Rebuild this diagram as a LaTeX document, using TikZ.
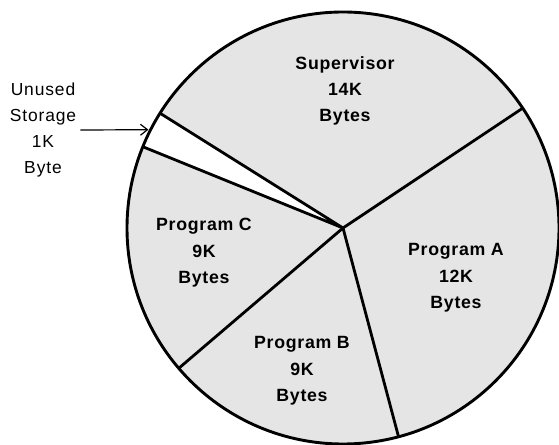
\documentclass[tikz,border=0pt]{standalone}
\usepackage{fontspec}
\setmainfont{Liberation Sans}
\newfontfamily\lblfont[LetterSpace=5]{Liberation Sans}
\newfontfamily\piefont[LetterSpace=4]{Liberation Sans}
\usetikzlibrary{arrows.meta,calc}
\tikzset{
  piefill/.style={fill=black!10},
  rim/.style={draw=black, line width=2.9bp},
  spoke/.style={draw=black, line width=2.8bp, line join=round},
  pielabel/.style={align=center, inner sep=2bp, font=\piefont\bfseries\fontsize{17.8}{26.5}\selectfont},
  sidelabel/.style={align=center, inner sep=4bp, font=\lblfont\fontsize{17.5}{26.3}\selectfont},
  pointer/.style={draw=black, line width=1.2bp, -{Straight Barb[length=7bp,width=11bp,line width=1.2bp]}}
}
\begin{document}
\begin{tikzpicture}[x=1bp,y=-1bp]
\useasboundingbox (0,0) rectangle (559,445);
\fill[white] (0,0) rectangle (559,445);
\coordinate (c) at (343,228);
\coordinate (pa1) at ($(c)+(33.7:216bp)$);
\coordinate (pu1) at ($(c)+(147.9:216bp)$);
\coordinate (pu2) at ($(c)+(157.9:216bp)$);
\coordinate (pc1) at ($(c)+(220.5:216bp)$);
\coordinate (pb1) at ($(c)+(284.9:216bp)$);
\coordinate (tip) at ($(c)+(153.2:218bp)$);
% disc
\fill[piefill] (c) circle[radius=216bp];
\fill[white] (c) -- (pu1) arc[start angle=147.9, end angle=157.9, radius=216bp] -- cycle;
% spokes
\draw[spoke] (pa1) -- (c) -- (pb1);
\draw[spoke] (pu1) -- (c) -- (pu2);
\draw[spoke] (c) -- (pc1);
\draw[rim] (c) circle[radius=216bp];
% labels
\node[pielabel] (sup) at (345,91) {Supervisor\\14K\\Bytes};
\node[pielabel] (pc) at (204,253) {Program C\\9K\\Bytes};
\node[pielabel] (pa) at (456,278) {Program A\\12K\\Bytes};
\node[pielabel] (pb) at (302,371) {Program B\\9K\\Bytes};
\node[sidelabel] (unused) at (43,130) {Unused\\Storage\\1K\\Byte};
\draw[pointer] (unused.east) -- (tip);
\end{tikzpicture}
\end{document}
